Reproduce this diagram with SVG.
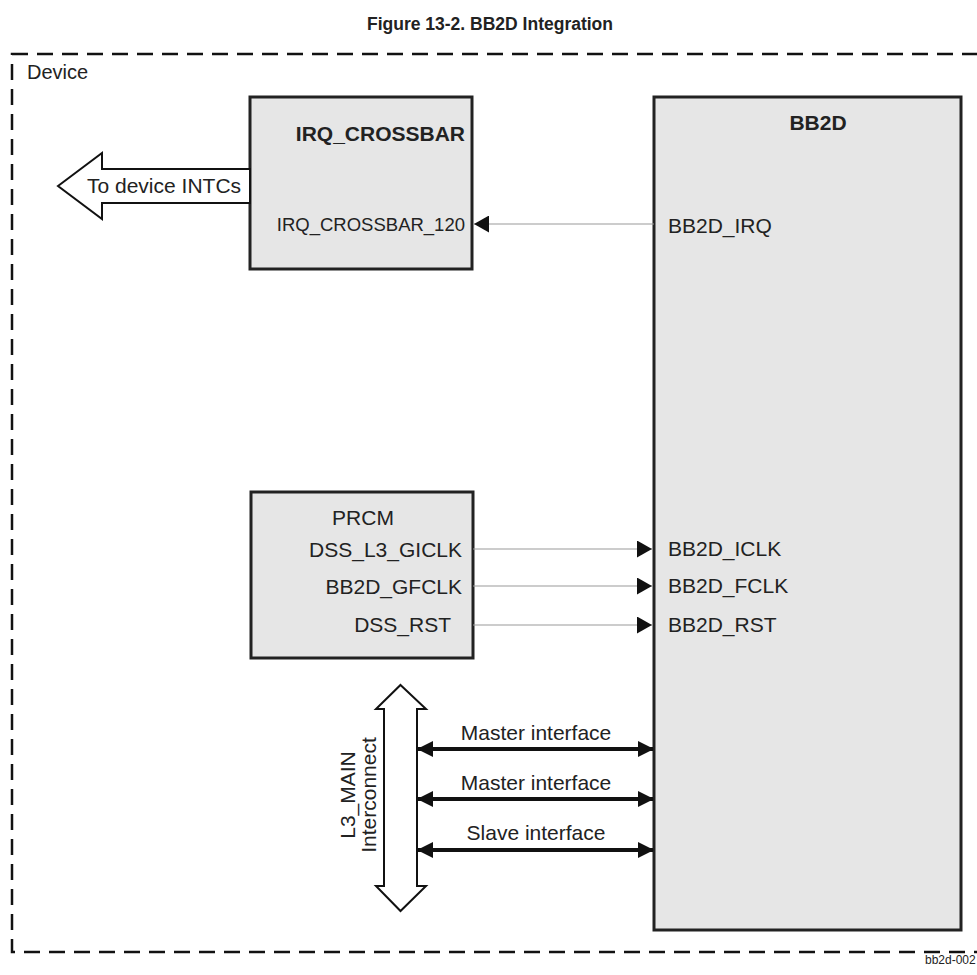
<svg xmlns="http://www.w3.org/2000/svg" width="977" height="975" viewBox="0 0 977 975">
  <defs>
    <style>
      .t { font-family: "Liberation Sans", Arial, sans-serif; fill: #222; font-size: 21px; }
      .box { fill: #e6e6e6; stroke: #222; stroke-width: 3; }
      .sig { stroke: #999; stroke-width: 1.2; fill: none; }
      .bus { stroke: #111; stroke-width: 4; fill: none; }
      .block { fill: #fff; stroke: #111; stroke-width: 2; }
    </style>
    <marker id="ah" viewBox="0 0 15 17" refX="15" refY="8.5" markerWidth="15" markerHeight="17" markerUnits="userSpaceOnUse" orient="auto">
      <path d="M0,0 L15,8.5 L0,17 Z" fill="#111"/>
    </marker>
    <marker id="bh" viewBox="0 0 16 16" refX="15" refY="8" markerWidth="16" markerHeight="16" markerUnits="userSpaceOnUse" orient="auto-start-reverse">
      <path d="M0,0 L16,8 L0,16 Z" fill="#111"/>
    </marker>
  </defs>
  <rect width="977" height="975" fill="#fff"/>

  <text class="t" x="490" y="30" style="font-size:17.5px" font-weight="bold" text-anchor="middle">Figure 13-2. BB2D Integration</text>

  <g id="device">
    <rect x="12" y="54" width="990" height="898" fill="none" stroke="#111" stroke-width="2.5" stroke-dasharray="16 9"/>
    <text class="t" x="27" y="79" style="font-size:20px">Device</text>
  </g>

  <g id="irq_crossbar">
    <rect class="box" x="250" y="97" width="222" height="172"/>
    <text class="t" x="465" y="141" font-weight="bold" text-anchor="end">IRQ_CROSSBAR</text>
    <text class="t" x="465" y="231" style="font-size:18.5px" text-anchor="end">IRQ_CROSSBAR_120</text>
  </g>

  <g id="to_intcs">
    <polygon class="block" stroke-width="3" points="58,186 102,153 102,169 250,169 250,203 102,203 102,219"/>
    <text class="t" x="87" y="193">To device INTCs</text>
  </g>

  <g id="bb2d">
    <rect class="box" x="654" y="97" width="307" height="833"/>
    <text class="t" x="818" y="130" font-weight="bold" text-anchor="middle">BB2D</text>
    <text class="t" x="668" y="233">BB2D_IRQ</text>
    <text class="t" x="668" y="556">BB2D_ICLK</text>
    <text class="t" x="668" y="593">BB2D_FCLK</text>
    <text class="t" x="668" y="632">BB2D_RST</text>
  </g>

  <g id="prcm">
    <rect class="box" x="251" y="492" width="222" height="166"/>
    <text class="t" x="363" y="525" text-anchor="middle">PRCM</text>
    <text class="t" x="462" y="557" text-anchor="end">DSS_L3_GICLK</text>
    <text class="t" x="462" y="594" text-anchor="end">BB2D_GFCLK</text>
    <text class="t" x="451" y="632" text-anchor="end">DSS_RST</text>
  </g>

  <g id="l3_main">
    <polygon class="block" stroke-width="1.5" points="400.5,685 426,709 417,709 417,886 426,886 400.5,911 376,886 384,886 384,709 376,709"/>
    <text class="t" transform="translate(355,795) rotate(-90)" text-anchor="middle">L3_MAIN</text>
    <text class="t" transform="translate(376,795) rotate(-90)" text-anchor="middle">Interconnect</text>
  </g>

  <g id="connectors">
    <line class="sig" x1="654" y1="224" x2="474" y2="224" marker-end="url(#ah)"/>
    <line class="sig" x1="473" y1="549" x2="652" y2="549" marker-end="url(#ah)"/>
    <line class="sig" x1="473" y1="586" x2="652" y2="586" marker-end="url(#ah)"/>
    <line class="sig" x1="473" y1="625" x2="652" y2="625" marker-end="url(#ah)"/>
    <line class="bus" x1="418" y1="749" x2="653" y2="749" marker-start="url(#bh)" marker-end="url(#bh)"/>
    <line class="bus" x1="418" y1="799" x2="653" y2="799" marker-start="url(#bh)" marker-end="url(#bh)"/>
    <line class="bus" x1="418" y1="850" x2="653" y2="850" marker-start="url(#bh)" marker-end="url(#bh)"/>
    <text class="t" x="536" y="740" text-anchor="middle">Master interface</text>
    <text class="t" x="536" y="790" text-anchor="middle">Master interface</text>
    <text class="t" x="536" y="840" text-anchor="middle">Slave interface</text>
  </g>

  <text class="t" x="925" y="964" style="font-size:12px">bb2d-002</text>
</svg>
